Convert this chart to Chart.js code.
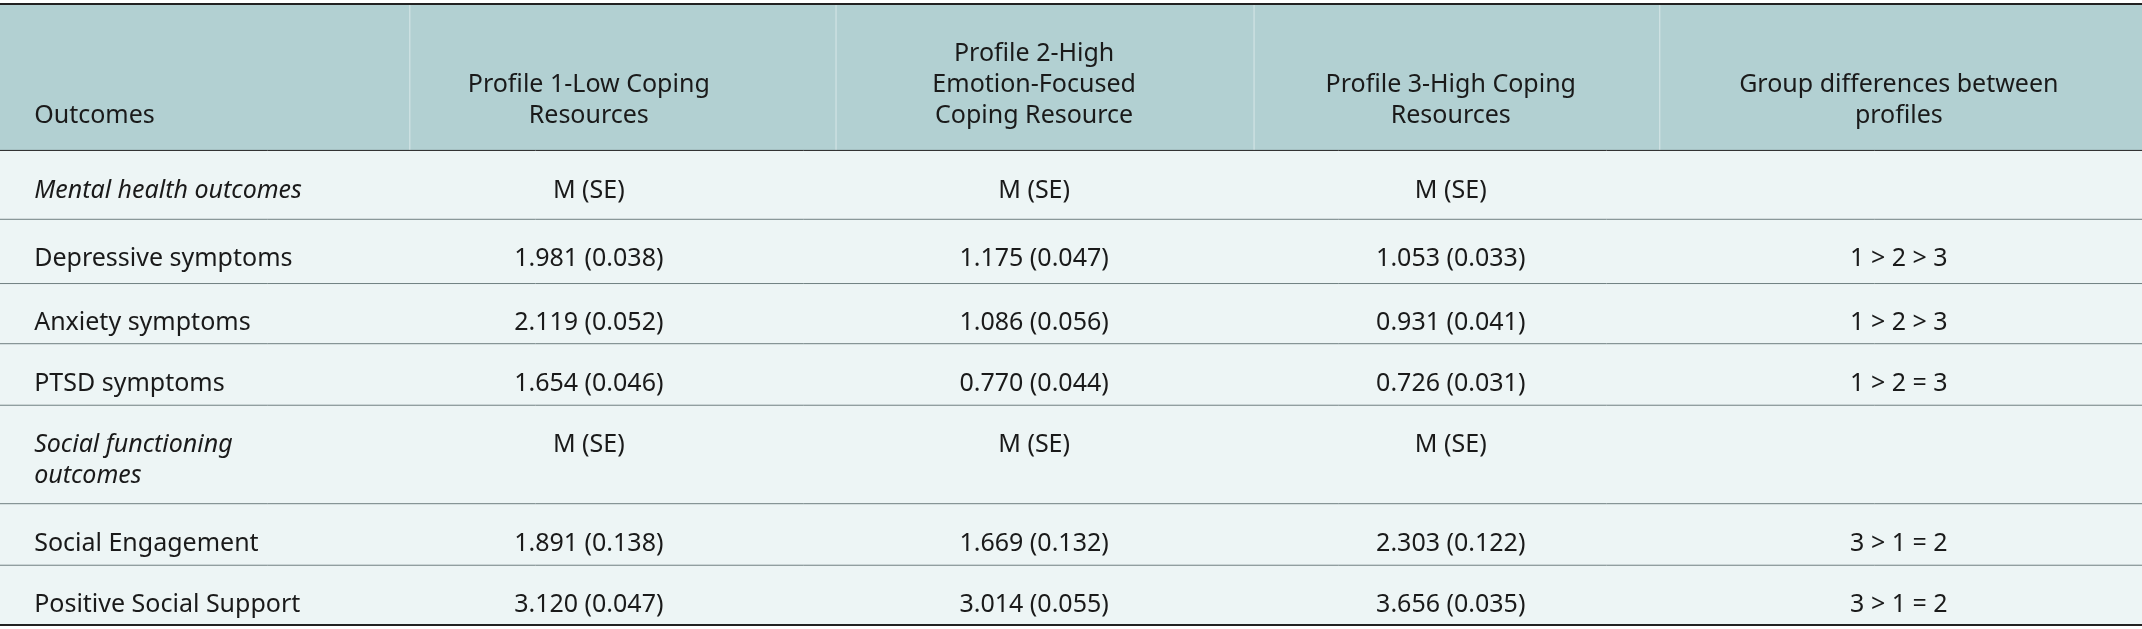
<!DOCTYPE html>
<html>
<head>
<meta charset="utf-8">
<script src="https://cdn.jsdelivr.net/npm/chart.js@4"></script>
<style>
  html, body { margin: 0; padding: 0; background: #fff; }
  #wrap { width: 2142px; height: 629px; }
</style>
</head>
<body>
<div id="wrap"><canvas id="tbl"></canvas></div>
<script>
// table content
const headers = ['Outcomes', 'Profile 1-Low Coping\nResources', 'Profile 2-High\nEmotion-Focused\nCoping Resource', 'Profile 3-High Coping\nResources', 'Group differences between\nprofiles'];
const outcomes = ['Mental health outcomes', 'Depressive symptoms', 'Anxiety symptoms', 'PTSD symptoms', 'Social functioning\noutcomes', 'Social Engagement', 'Positive Social Support'];
const italicRows = [0, 4];
const profile1 = ['M (SE)', '1.981 (0.038)', '2.119 (0.052)', '1.654 (0.046)', 'M (SE)', '1.891 (0.138)', '3.120 (0.047)'];
const profile2 = ['M (SE)', '1.175 (0.047)', '1.086 (0.056)', '0.770 (0.044)', 'M (SE)', '1.669 (0.132)', '3.014 (0.055)'];
const profile3 = ['M (SE)', '1.053 (0.033)', '0.931 (0.041)', '0.726 (0.031)', 'M (SE)', '2.303 (0.122)', '3.656 (0.035)'];
const groupDiff = ['', '1 > 2 > 3', '1 > 2 > 3', '1 > 2 = 3', '', '3 > 1 = 2', '3 > 1 = 2'];

// layout in reference units (table is 1568 x 459)
const rowEdges = [3, 110, 160, 207, 251, 296, 368, 413, 457];
const colEdges = [0, 300, 612, 918, 1215, 1568];
const colCenters = [25, 431, 757, 1062, 1390];

const tablePlugin = {
  id: 'tablePlugin',
  afterDraw(chart) {
    const { ctx, scales: { x, y } } = chart;
    const px = v => x.getPixelForValue(v);
    const py = v => y.getPixelForValue(v);
    const fs = 25;
    ctx.save();
    // backgrounds
    ctx.fillStyle = '#b2d0d2';
    ctx.fillRect(px(0), py(rowEdges[0]), px(1568) - px(0), py(rowEdges[1]) - py(rowEdges[0]));
    ctx.fillStyle = '#edf5f5';
    ctx.fillRect(px(0), py(rowEdges[1]), px(1568) - px(0), py(rowEdges[8]) - py(rowEdges[1]));
    // header column separators
    ctx.strokeStyle = 'rgba(255,255,255,0.5)';
    ctx.lineWidth = 1;
    for (let i = 1; i < colEdges.length - 1; i++) {
      ctx.beginPath();
      ctx.moveTo(px(colEdges[i]), py(rowEdges[0]));
      ctx.lineTo(px(colEdges[i]), py(rowEdges[1]));
      ctx.stroke();
    }
    // row lines
    ctx.strokeStyle = '#6f7f80';
    for (let i = 2; i < rowEdges.length - 1; i++) {
      ctx.beginPath();
      ctx.moveTo(px(0), py(rowEdges[i]) + 0.5);
      ctx.lineTo(px(1568), py(rowEdges[i]) + 0.5);
      ctx.stroke();
    }
    ctx.strokeStyle = '#222';
    ctx.lineWidth = 2;
    [rowEdges[0], rowEdges[8]].forEach(r => {
      ctx.beginPath();
      ctx.moveTo(px(0), py(r));
      ctx.lineTo(px(1568), py(r));
      ctx.stroke();
    });
    ctx.lineWidth = 1;
    ctx.beginPath();
    ctx.moveTo(px(0), py(rowEdges[1]));
    ctx.lineTo(px(1568), py(rowEdges[1]));
    ctx.stroke();

    const lh = 31;
    ctx.fillStyle = '#1a1a1a';
    ctx.textBaseline = 'middle';
    // header: bottom aligned
    headers.forEach((h, c) => {
      const lines = h.split('\n');
      ctx.font = fs + 'px "Noto Sans"';
      ctx.textAlign = c === 0 ? 'left' : 'center';
      const bottom = py(85);
      lines.forEach((ln, i) => {
        ctx.fillText(ln, px(colCenters[c]), bottom - (lines.length - 1 - i) * lh);
      });
    });
    // body
    const cols = [outcomes, profile1, profile2, profile3, groupDiff];
    for (let r = 0; r < outcomes.length; r++) {
      const top = py(rowEdges[r + 1]);
      const yFirst = top + (py(rowEdges[2]) - py(rowEdges[1])) / 2 + 6;
      cols.forEach((col, c) => {
        ctx.font = (c === 0 && italicRows.includes(r) ? 'italic ' : '') + fs + 'px "Noto Sans"';
        ctx.textAlign = c === 0 ? 'left' : 'center';
        col[r].split('\n').forEach((ln, i) => {
          ctx.fillText(ln, px(colCenters[c]), yFirst + i * lh);
        });
      });
    }
    ctx.restore();
  }
};

new Chart(document.getElementById('tbl'), {
  type: 'scatter',
  data: { datasets: [{ data: [] }] },
  options: {
    responsive: true,
    maintainAspectRatio: false,
    animation: false,
    layout: { padding: 0 },
    plugins: { legend: { display: false }, tooltip: { enabled: false } },
    scales: {
      x: { type: 'linear', min: 0, max: 1568, display: false },
      y: { type: 'linear', min: 0, max: 460, reverse: true, display: false }
    }
  },
  plugins: [tablePlugin]
});
</script>
</body>
</html>
